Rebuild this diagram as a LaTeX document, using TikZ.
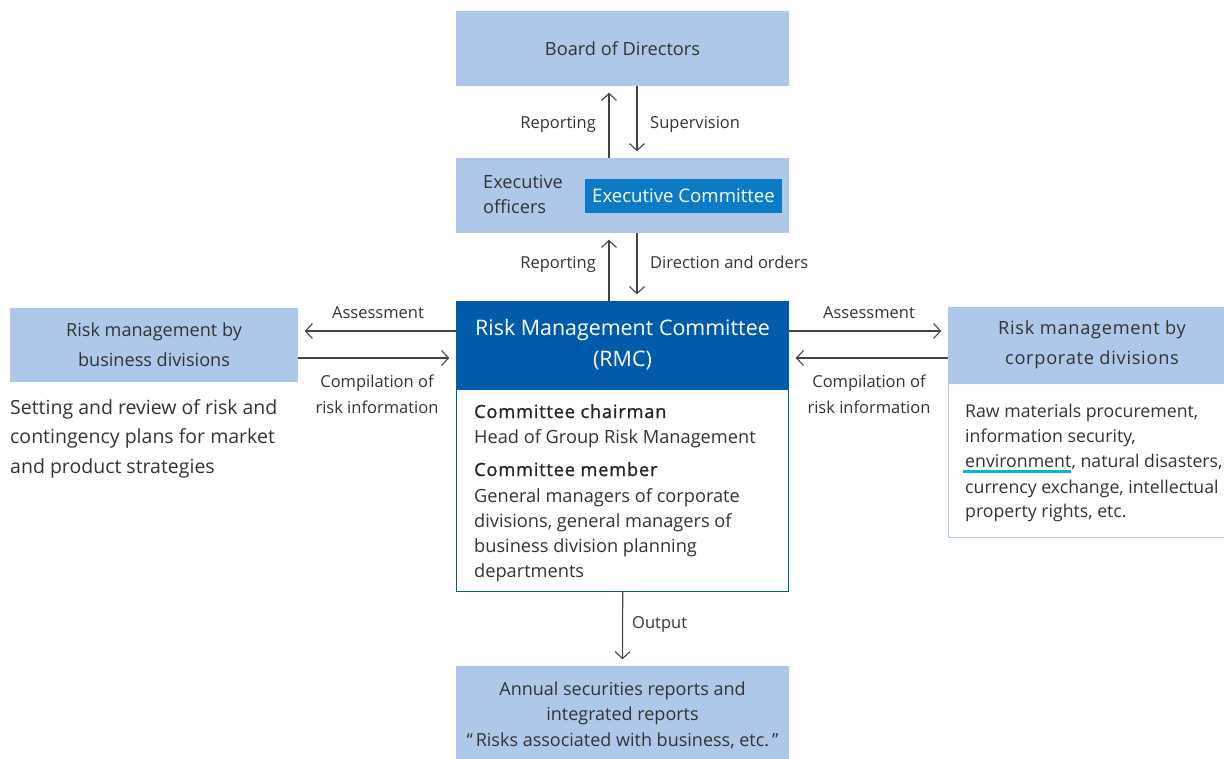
\documentclass[tikz,border=0pt]{standalone}
\usepackage{fontspec}
\setmainfont{Open Sans}
\usetikzlibrary{arrows.meta}
\definecolor{lb}{HTML}{ADC8E8}
\definecolor{db}{HTML}{005BAB}
\definecolor{mb}{HTML}{0A7BC4}
\definecolor{tx}{HTML}{333333}
\definecolor{ln}{HTML}{444444}
\definecolor{cy}{HTML}{00B4E4}
\newcommand{\fs}[2]{\fontsize{#1}{#2}\selectfont}
\begin{document}
\begin{tikzpicture}[x=1pt,y=-1pt,
  lbox/.style={fill=lb, draw=none, inner sep=0pt, align=center, text=tx},
  lbl/.style={inner sep=0pt, text=tx, font=\fs{16.5}{26}},
  txt/.style={inner sep=0pt, text=tx, font=\fs{18.2}{25}},
  rtxt/.style={inner sep=0pt, text=tx, font=\fs{17.7}{25}},
  bold/.style={inner sep=0pt, text=black!85, font=\fs{18.2}{25}\addfontfeature{FakeBold=1.2,LetterSpace=4.5}},
  arr/.style={draw=ln, line width=1.1pt, shorten >=6.5pt,
    -{Straight Barb[length=7pt,width=15pt,line width=1.1pt]}}]
\clip (0,0) rectangle (1224,758);
% top
\node[lbox, minimum width=333pt, minimum height=75pt, font=\fs{18.2}{26}] (board) at (622.5,48.5) {Board of Directors};
\node[lbox, minimum width=333pt, minimum height=75pt] (exec) at (622.5,195.5) {};
\node[txt, anchor=base west] (eo1) at (483,188) {Executive};
\node[txt, anchor=base west] (eo2) at (483,213) {officers};
\node[fill=mb, minimum width=197pt, minimum height=34pt, inner sep=0pt, text=white, font=\fs{18.6}{20}] (ec) at (683.5,196) {Executive Committee};
\draw[arr] ([xshift=-13.5pt]exec.north) -- ([xshift=-13.5pt]board.south);
\draw[arr] ([xshift=14.5pt]board.south) -- ([xshift=14.5pt]exec.north);
\node[lbl, anchor=base east] (rep1) at (596,128) {Reporting};
\node[lbl, anchor=base west] (sup) at (650,128) {Supervision};
% RMC
\node[fill=white, draw=db, line width=1pt, minimum width=332pt, minimum height=202pt, inner sep=0pt] (rmcb) at (622.75,490) {};
\node[fill=db, minimum width=333pt, minimum height=88pt, inner sep=0pt, text=white, align=center, font=\fs{21.4}{31}] (rmc) at (622.5,345) {Risk Management Committee\\(RMC)};
\draw[arr] ([xshift=-13.5pt]rmc.north) -- ([xshift=-13.5pt]exec.south);
\draw[arr] ([xshift=14.5pt]exec.south) -- ([xshift=14.5pt]rmc.north);
\node[lbl, anchor=base east] (rep2) at (596,268) {Reporting};
\node[lbl, anchor=base west] (dir) at (650,268) {Direction and orders};
\node[bold, anchor=base west] (cc) at (474,418) {Committee chairman};
\node[txt, anchor=base west] (cc2) at (474,443) {Head of Group Risk Management};
\node[bold, anchor=base west] (cm) at (474,476) {Committee member};
\node[txt, anchor=base west] (cm2) at (474,502) {General managers of corporate};
\node[txt, anchor=base west] (cm3) at (474,527) {divisions, general managers of};
\node[txt, anchor=base west] (cm4) at (474,552) {business division planning};
\node[txt, anchor=base west] (cm5) at (474,577) {departments};
% bottom
\node[lbox, minimum width=333pt, minimum height=98pt, font=\fs{18}{25.5}] (out) at (622.5,715) {Annual securities reports and\\integrated reports\\“\,Risks associated with business, etc.\,”};
\draw[arr] (rmcb.south) -- (out.north);
\node[lbl, anchor=base west] (outl) at (632,628) {Output};
% left
\node[lbox, minimum width=288pt, minimum height=74pt, font=\fs{18.1}{30}] (lbx) at (154,345) {Risk management by\\business divisions};
\draw[arr] ([yshift=14pt]rmc.west) -- ([yshift=14pt]lbx.east);
\draw[arr] ([yshift=-13pt]lbx.east) -- ([yshift=-13pt]rmc.west);
\node[lbl, anchor=base] (asl) at (378,318) {Assessment};
\node[lbl, anchor=base] (cl1) at (377,387) {Compilation of};
\node[lbl, anchor=base] (cl2) at (377,413) {risk information};
\node[txt, anchor=base west, font=\fs{19.5}{29}] (ld1) at (10,414) {Setting and review of risk and};
\node[txt, anchor=base west, font=\fs{19.5}{29}] (ld2) at (10,443) {contingency plans for market};
\node[txt, anchor=base west, font=\fs{19.5}{29}] (ld3) at (10,473) {and product strategies};
% right
\node[fill=white, draw=lb, line width=1pt, minimum width=288pt, minimum height=154pt, inner sep=0pt] (rbody) at (1092,460) {};
\node[lbox, minimum width=288pt, minimum height=76pt, font=\fs{18.2}{30}\addfontfeature{LetterSpace=4}] (rh) at (1092,345) {Risk management by\\corporate divisions};
\draw[arr] ([yshift=14pt]rmc.east) -- ([yshift=14pt]rh.west);
\draw[arr] ([yshift=-13pt]rh.west) -- ([yshift=-13pt]rmc.east);
\node[lbl, anchor=base] (asr) at (869,318) {Assessment};
\node[lbl, anchor=base] (cr1) at (869,387) {Compilation of};
\node[lbl, anchor=base] (cr2) at (869,413) {risk information};
\node[rtxt, anchor=base west] (r1) at (965,417) {Raw materials procurement,};
\node[rtxt, anchor=base west] (r2) at (965,442) {information security,};
\node[rtxt, anchor=base west] (env) at (965,467) {environment};
\node[rtxt, anchor=base west] (r3) at (env.base east) {, natural disasters,};
\node[rtxt, anchor=base west] (r4) at (965,493) {currency exchange, intellectual};
\node[rtxt, anchor=base west] (r5) at (965,517) {property rights, etc.};
\draw[cy, line width=3pt] ([yshift=-4pt, xshift=-2pt]env.base west) -- ([yshift=-4pt]env.base east);
\end{tikzpicture}
\end{document}
